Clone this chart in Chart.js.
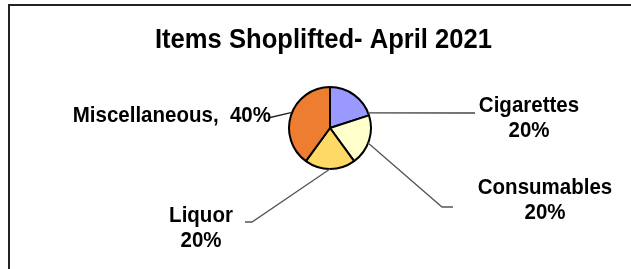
<!DOCTYPE html>
<html>
<head>
<meta charset="utf-8">
<script src="https://cdn.jsdelivr.net/npm/chart.js@4/dist/chart.umd.min.js"></script>
<style>
  body { margin: 0; background: #fff; overflow: hidden; }
  #wrap { position: relative; width: 631px; height: 269px; }
  #frame { position: absolute; left: 8px; top: 4px; width: 700px; height: 400px; border: 2px solid #222; }
  #pie { position: absolute; left: 0; top: 0; }
</style>
</head>
<body>
<div id="wrap">
  <div id="frame"></div>
  <canvas id="pie" width="631" height="269"></canvas>
</div>
<script>
var titleText = 'Items Shoplifted- April 2021';
var categories = ['Cigarettes', 'Consumables', 'Liquor', 'Miscellaneous'];
var values = [20, 20, 20, 40];
var colors = ['#9999FF', '#FFFFCC', '#FFD966', '#ED7D31'];

// where each label sits and how its leader bends (layout only)
var labelLayout = [
  { frac: 0.95, pts: [[475, 113]], tx: 529, ty: 106, align: 'center', split: true, line: '#444' },
  { frac: 0.55, pts: [[442, 207], [453, 207]], tx: 545, ty: 188, align: 'center', split: true, line: '#555' },
  { frac: 0.5, pts: [[252, 222], [245, 222]], tx: 201, ty: 216, align: 'center', split: true, line: '#555' },
  { frac: 0.53, pts: [[268, 118]], tx: 271, ty: 116, align: 'right', split: false, line: '#222' }
];

// text in the original is a little taller than plain Arial
function tallText(ctx, txt, x, y) {
  ctx.save();
  ctx.translate(x, y);
  ctx.scale(1, 1.08);
  ctx.fillText(txt, 0, 0);
  ctx.restore();
}

var labelPlugin = {
  id: 'labels',
  afterDraw: function (chart) {
    var ctx = chart.ctx;
    var meta = chart.getDatasetMeta(0);
    var total = values.reduce(function (a, b) { return a + b; }, 0);

    ctx.save();
    ctx.fillStyle = '#000';
    ctx.textBaseline = 'middle';
    ctx.font = 'bold 25.6px "Liberation Sans", Arial, sans-serif';
    ctx.textAlign = 'center';
    tallText(ctx, titleText, 323.5, 40);

    for (var i = 0; i < meta.data.length; i++) {
      var arc = meta.data[i];
      var p = arc.getProps(['x', 'y', 'startAngle', 'endAngle', 'outerRadius'], true);
      var lay = labelLayout[i];
      var a = p.startAngle + lay.frac * (p.endAngle - p.startAngle);
      var sx = p.x + Math.cos(a) * p.outerRadius;
      var sy = p.y + Math.sin(a) * p.outerRadius;

      ctx.strokeStyle = lay.line;
      ctx.lineWidth = 1.3;
      ctx.beginPath();
      ctx.moveTo(sx, sy);
      lay.pts.forEach(function (pt) { ctx.lineTo(pt[0], pt[1]); });
      ctx.stroke();

      var pct = Math.round(values[i] / total * 100) + '%';
      ctx.font = 'bold 20.5px "Liberation Sans", Arial, sans-serif';
      ctx.textAlign = lay.align;
      if (lay.split) {
        tallText(ctx, categories[i], lay.tx, lay.ty);
        tallText(ctx, pct, lay.tx, lay.ty + 25);
      } else {
        tallText(ctx, categories[i] + ',  ' + pct, lay.tx, lay.ty);
      }
    }
    ctx.restore();
  }
};

var ctx = document.getElementById('pie');
window.myPie = new Chart(ctx, {
  type: 'pie',
  data: {
    labels: categories,
    datasets: [{
      data: values,
      backgroundColor: colors,
      borderColor: '#000',
      borderWidth: 2
    }]
  },
  options: {
    responsive: false,
    animation: false,
    layout: {
      padding: { left: 29, right: 0, top: 86, bottom: 99 }
    },
    plugins: {
      legend: { display: false },
      tooltip: { enabled: false },
      title: { display: false }
    }
  },
  plugins: [labelPlugin]
});
</script>
</body>
</html>
